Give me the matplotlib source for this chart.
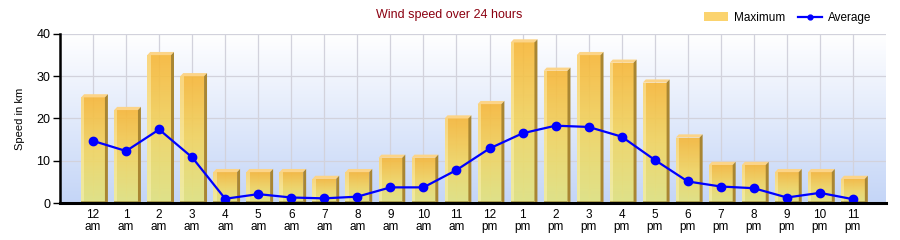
import numpy as np
import matplotlib
matplotlib.use("Agg")
import matplotlib.pyplot as plt
from matplotlib.patches import Rectangle, Polygon, Patch
from matplotlib.lines import Line2D
from matplotlib.colors import LinearSegmentedColormap

hours = ["12\nam", "1\nam", "2\nam", "3\nam", "4\nam", "5\nam", "6\nam", "7\nam",
         "8\nam", "9\nam", "10\nam", "11\nam", "12\npm", "1\npm", "2\npm", "3\npm",
         "4\npm", "5\npm", "6\npm", "7\npm", "8\npm", "9\npm", "10\npm", "11\npm"]
maximum = [25, 22, 35, 30, 7.3, 7.3, 7.3, 5.7, 7.3, 10.7, 10.7, 20,
           23.4, 38, 31.3, 35, 33.2, 28.5, 15.5, 9, 9, 7.3, 7.3, 5.7]
average = [14.7, 12.3, 17.4, 10.8, 1.0, 2.1, 1.3, 1.1, 1.5, 3.7, 3.7, 7.8,
           12.9, 16.5, 18.3, 18.0, 15.7, 10.2, 5.1, 3.9, 3.5, 1.3, 2.4, 0.9]
yticks = [0, 10, 20, 30, 40]

plt.rcParams['font.family'] = ['Liberation Sans', 'DejaVu Sans']
fig = plt.figure(figsize=(9, 2.4), dpi=100)
ax = fig.add_axes([60/900, 1-203/240, (886-60)/900, (203-34)/240])

n = len(hours)
x = np.arange(n)
ax.set_xlim(-1, n)
ax.set_ylim(0, 40)

# background gradient
bg = LinearSegmentedColormap.from_list("bg", ["#C4D5F7", "#FFFFFF"])
grad = np.linspace(0, 1, 256).reshape(-1, 1)
ax.imshow(grad, extent=[-1, n, 0, 40], aspect='auto', cmap=bg, origin='lower', zorder=0)

# grid
for yv in yticks[1:]:
    ax.axhline(yv, color="#D2D2DC", lw=0.9, zorder=1)
for xv in x:
    ax.axvline(xv, color="#D2D2DC", lw=0.9, zorder=1)

# bars
w = 0.72
dx = 0.09
dy = 0.75
front = LinearSegmentedColormap.from_list("fr", ["#E2E47E", "#F2D45E", "#F7B636"])
for xi, v in zip(x, maximum):
    x0, x1 = xi - w/2, xi + w/2
    rect = Rectangle((x0, 0), w, v, facecolor='none', edgecolor='none', zorder=3)
    ax.add_patch(rect)
    im = ax.imshow(grad, extent=[x0, x1, 0, v], aspect='auto', cmap=front,
                   origin='lower', zorder=3, alpha=0.9)
    im.set_clip_path(rect)
    ax.add_patch(Rectangle((x0, 0), 0.1, v, facecolor="#FFF6C0", alpha=0.45,
                           edgecolor='none', zorder=3.1))
    ax.add_patch(Polygon([(x0, v), (x0 + dx, v + dy), (x1 + dx, v + dy), (x1, v)],
                         closed=True, facecolor="#FCD488", edgecolor='none', zorder=3.2))
    ax.add_patch(Polygon([(x1, v), (x1 + dx, v + dy), (x1 + dx, dy * 0.3), (x1, 0)],
                         closed=True, facecolor="#A98632", edgecolor='none', zorder=3.2))
    ax.add_patch(Rectangle((x0, 0), w, 0.45, facecolor="#9C8A3C", alpha=0.7,
                           edgecolor='none', zorder=3.3))

# line
ax.plot(x, average, color="#0000FF", lw=1.6, marker='o', markersize=6, zorder=5,
        clip_on=False)

ax.set_xticks(x)
ax.set_xticklabels(hours, fontsize=8.5, linespacing=1.05)
ax.set_yticks(yticks)
ax.set_yticklabels([str(t) for t in yticks], fontsize=9)
ax.tick_params(axis='x', length=0, pad=4)
ax.tick_params(axis='y', length=5, width=1, pad=2, direction='out')
for s in ['top', 'right']:
    ax.spines[s].set_visible(False)
ax.spines['left'].set_linewidth(1.8)
ax.spines['bottom'].set_linewidth(2.2)
ax.spines['left'].set_zorder(6)
ax.spines['bottom'].set_zorder(6)
ax.set_ylabel("Speed in km", fontsize=8, labelpad=8)

fig.text(449/900, 1-15/240, "Wind speed over 24 hours", ha='center', va='center',
         fontsize=9, color="#8B0010")

handles = [Patch(facecolor="#FBD36E", edgecolor='none', label="Maximum"),
           Line2D([0], [0], color="#0000FF", lw=1.6, marker='o', markersize=3.5, label="Average")]
fig.legend(handles=handles, loc='center right', bbox_to_anchor=(877/900, 1-18/240),
           ncol=2, frameon=False, fontsize=8.5, handlelength=2.0, handleheight=0.8,
           columnspacing=1.1, handletextpad=0.5, borderpad=0)

fig.savefig("out.png", dpi=100)
